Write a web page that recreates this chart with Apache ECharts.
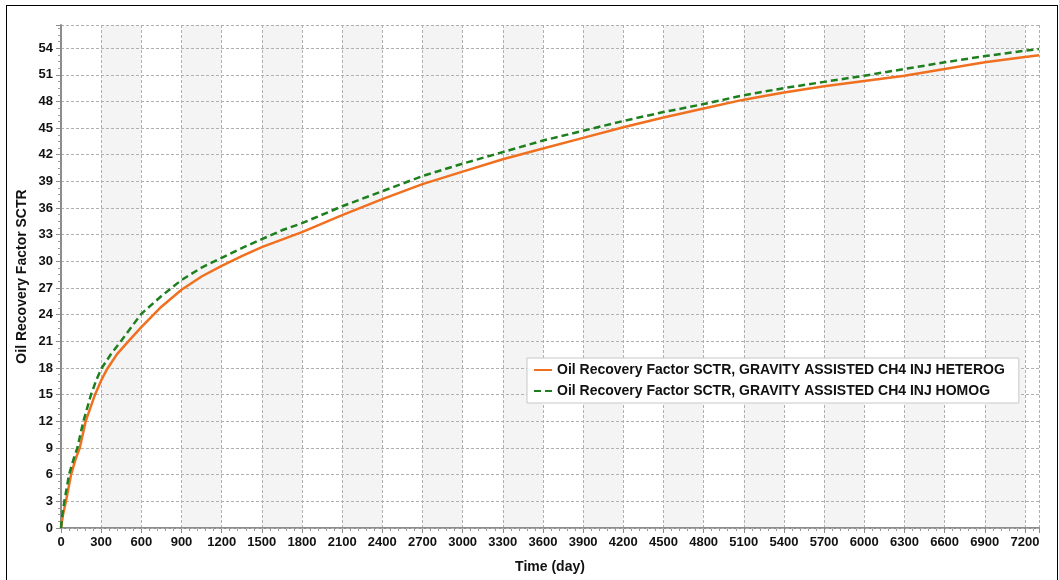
<!DOCTYPE html>
<html>
<head>
<meta charset="utf-8">
<script src="https://cdn.jsdelivr.net/npm/echarts@6/dist/echarts.min.js"></script>
<style>
html,body{margin:0;padding:0;background:#fff;}
#chart{position:absolute;left:0;top:0;width:1059px;height:580px;}
#frame{position:absolute;left:6px;top:5px;width:1050px;height:590px;border:1.5px solid #000;pointer-events:none;}
</style>
</head>
<body>
<div id="chart"></div>
<div id="frame"></div>
<script>
const xName = 'Time (day)';
const yName = 'Oil Recovery Factor SCTR';
const seriesNames = [
  'Oil Recovery Factor SCTR, GRAVITY ASSISTED CH4 INJ HETEROG',
  'Oil Recovery Factor SCTR, GRAVITY ASSISTED CH4 INJ HOMOG'
];
const heterogDays = [0, 15, 37, 75, 110, 140, 184, 254, 300, 341, 420, 503, 600, 750, 900, 1050, 1200, 1350, 1500, 1800, 2100, 2400, 2700, 3000, 3300, 3600, 3900, 4200, 4500, 4800, 5100, 5400, 5700, 6000, 6300, 6600, 6900, 7200, 7305];
const heterogRF   = [0, 1.5, 3, 6, 7.8, 9, 12, 15, 16.6, 17.8, 19.6, 21, 22.6, 24.9, 26.8, 28.3, 29.5, 30.6, 31.6, 33.3, 35.2, 37.0, 38.7, 40.1, 41.5, 42.7, 43.9, 45.1, 46.2, 47.2, 48.2, 49.0, 49.7, 50.3, 50.9, 51.65, 52.4, 53.0, 53.2];
const homogDays = [0, 10, 25, 60, 95, 122, 167, 224, 265, 304, 375, 446, 600, 750, 900, 1050, 1200, 1350, 1500, 1650, 1800, 2100, 2400, 2700, 3000, 3300, 3600, 3900, 4200, 4500, 4800, 5100, 5400, 5700, 6000, 6300, 6600, 6900, 7200, 7305];
const homogRF   = [0, 1.5, 3, 6, 7.8, 9, 12, 15, 16.7, 18, 19.6, 21, 24.1, 26.1, 27.9, 29.3, 30.4, 31.5, 32.5, 33.5, 34.3, 36.2, 37.9, 39.6, 41.0, 42.3, 43.6, 44.7, 45.8, 46.8, 47.7, 48.7, 49.5, 50.2, 50.9, 51.65, 52.4, 53.1, 53.7, 53.9];
const xMin = 0, xMax = 7305, xStep = 300;
const yMin = 0, yMax = 56.6, yStep = 3;

const zip = (a, b) => a.map((v, i) => [v, b[i]]);
const font = 'Arial, "Liberation Sans", sans-serif';
const chart = echarts.init(document.getElementById('chart'), null, {renderer: 'canvas'});
const axisCommon = {
  axisLine: {show: true, lineStyle: {color: '#8c8c8c', width: 2}},
  axisTick: {show: true, length: 5, lineStyle: {color: '#8c8c8c', width: 1}},
  minorTick: {show: true, length: 3, lineStyle: {color: '#999'}},
  splitLine: {show: true, lineStyle: {color: '#b0b0b0', type: [3, 2], width: 1}},
  axisLabel: {color: '#111', fontFamily: font, fontWeight: 'bold', fontSize: 13, showMaxLabel: false,
              formatter: v => String(v)},
  nameTextStyle: {color: '#111', fontFamily: font, fontWeight: 'bold', fontSize: 14}
};
chart.setOption({
  animation: false,
  backgroundColor: '#fff',
  grid: {left: 61, top: 25, right: 20, bottom: 52, containLabel: false},
  xAxis: Object.assign({}, axisCommon, {
    type: 'value', min: xMin, max: xMax, interval: xStep, z: 0,
    name: xName, nameLocation: 'middle', nameGap: 32,
    minorTick: Object.assign({}, axisCommon.minorTick, {splitNumber: 5}),
    axisLabel: Object.assign({}, axisCommon.axisLabel, {margin: 8}),
    splitArea: {show: true, areaStyle: {color: ['#ffffff', '#f4f4f4']}}
  }),
  yAxis: Object.assign({}, axisCommon, {
    type: 'value', min: yMin, max: yMax, interval: yStep, z: 1,
    name: yName, nameLocation: 'middle', nameGap: 32, nameRotate: 90, nameMoveOverlap: false,
    minorTick: Object.assign({}, axisCommon.minorTick, {splitNumber: 4}),
    axisLabel: Object.assign({}, axisCommon.axisLabel, {margin: 8})
  }),
  legend: {
    orient: 'vertical', left: 527, top: 358,
    backgroundColor: '#fff', borderColor: '#c8c8c8', borderWidth: 1,
    padding: [5, 14, 5, 6], itemGap: 7, itemWidth: 18, itemHeight: 14,
    itemStyle: {opacity: 0},
    textStyle: {color: '#111', fontFamily: font, fontWeight: 'bold', fontSize: 14},
    data: seriesNames
  },
  series: [
    {
      name: seriesNames[0], type: 'line', data: zip(heterogDays, heterogRF),
      showSymbol: false, symbol: 'none', smooth: false,
      lineStyle: {color: '#f07020', width: 2.5}, itemStyle: {color: '#f07020'}, z: 3
    },
    {
      name: seriesNames[1], type: 'line', data: zip(homogDays, homogRF),
      showSymbol: false, symbol: 'none', smooth: false,
      lineStyle: {color: '#1e7f1e', width: 2.5, type: [7, 4]}, itemStyle: {color: '#1e7f1e'}, z: 4
    }
  ]
});
</script>
</body>
</html>
